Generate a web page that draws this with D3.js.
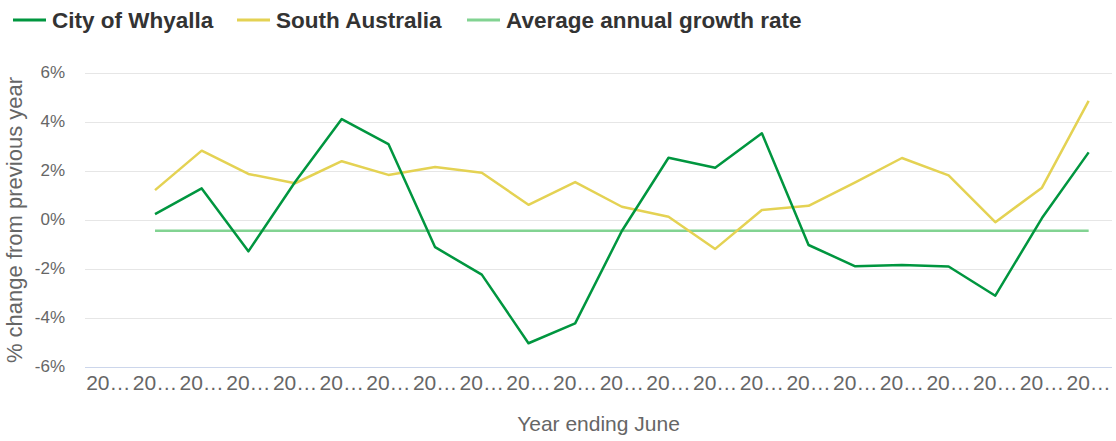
<!DOCTYPE html>
<html>
<head>
<meta charset="utf-8">
<script src="https://cdn.jsdelivr.net/npm/d3@7"></script>
<style>
  body { margin: 0; background: #fff; }
  text { font-family: "Liberation Sans", Arial, sans-serif; }
</style>
</head>
<body>
<div id="chart"></div>
<script>
// year ending June, one slot per year (first year has no change value)
var years = ["2001", "2002", "2003", "2004", "2005", "2006", "2007", "2008", "2009", "2010", "2011",
             "2012", "2013", "2014", "2015", "2016", "2017", "2018", "2019", "2020", "2021", "2022"];

var whyalla = [null, 0.24, 1.29, -1.28, 1.55, 4.12, 3.1, -1.11, -2.23, -5.03, -4.22,
               -0.45, 2.54, 2.13, 3.54, -1.02, -1.89, -1.84, -1.9, -3.09, 0.08, 2.76];
var southAus = [null, 1.22, 2.83, 1.88, 1.5, 2.4, 1.84, 2.16, 1.93, 0.62, 1.55,
                0.54, 0.13, -1.18, 0.41, 0.58, 1.54, 2.53, 1.82, -0.09, 1.32, 4.86];
var avgRate = -0.44; // average annual growth rate, Whyalla

var yTicks = [-6, -4, -2, 0, 2, 4, 6];

var seriesNames = ["City of Whyalla", "South Australia", "Average annual growth rate"];
var seriesColors = ["#00963f", "#e4d253", "#82d392"];

var w = 1116, h = 441;
var margin = { top: 73, right: 4, bottom: 74, left: 85 };
var width = w - margin.left - margin.right;
var height = h - margin.top - margin.bottom;

var svg = d3.select("#chart").append("svg")
    .attr("width", w)
    .attr("height", h);

var g = svg.append("g")
    .attr("transform", "translate(" + margin.left + "," + margin.top + ")");

var x = d3.scaleBand().domain(years).range([0, width]);
var y = d3.scaleLinear().domain([-6, 6]).range([height, 0]);

// gridlines
g.append("g")
    .selectAll("line")
    .data(yTicks.filter(t => t !== -6))
    .enter()
    .append("line")
    .attr("x1", 0)
    .attr("x2", width)
    .attr("y1", d => Math.round(y(d)) + 0.5)
    .attr("y2", d => Math.round(y(d)) + 0.5)
    .style("stroke", "#e6e6e6")
    .style("stroke-width", 1);

// y tick labels
g.append("g")
    .selectAll("text")
    .data(yTicks)
    .enter()
    .append("text")
    .attr("x", -20)
    .attr("y", d => y(d) + 5)
    .attr("text-anchor", "end")
    .style("font-size", "17px")
    .style("fill", "#666666")
    .text(d => d + "%");

// x axis line
g.append("line")
    .attr("x1", 0)
    .attr("x2", width)
    .attr("y1", height + 0.5)
    .attr("y2", height + 0.5)
    .style("stroke", "#ccd6eb")
    .style("stroke-width", 1);

// x tick labels - truncated like the original
g.append("g")
    .selectAll("text")
    .data(years)
    .enter()
    .append("text")
    .attr("x", d => x(d) + x.bandwidth() / 2)
    .attr("y", height + 23)
    .attr("text-anchor", "middle")
    .style("font-size", "21px")
    .style("fill", "#666666")
    .text(d => d.slice(0, 2) + "\u2026");

// axis titles
svg.append("text")
    .attr("transform", "translate(22," + (margin.top + height / 2) + ") rotate(-90)")
    .attr("text-anchor", "middle")
    .style("font-size", "22px")
    .style("fill", "#666666")
    .text("% change from previous year");

svg.append("text")
    .attr("x", margin.left + width / 2)
    .attr("y", 431)
    .attr("text-anchor", "middle")
    .style("font-size", "21px")
    .style("fill", "#666666")
    .text("Year ending June");

var cx = d => x(d) + x.bandwidth() / 2;

// average line spans the years with data
var avgYears = years.filter((d, i) => whyalla[i] !== null);
g.append("line")
    .attr("x1", cx(avgYears[0]))
    .attr("x2", cx(avgYears[avgYears.length - 1]))
    .attr("y1", y(avgRate))
    .attr("y2", y(avgRate))
    .style("stroke", seriesColors[2])
    .style("stroke-width", 2.5);

var line = d3.line()
    .defined(d => d.v !== null)
    .x(d => cx(d.year))
    .y(d => y(d.v));

[southAus, whyalla].forEach(function(vals) {
    var col = vals === whyalla ? seriesColors[0] : seriesColors[1];
    g.append("path")
        .datum(years.map((yr, i) => ({ year: yr, v: vals[i] })))
        .attr("d", line)
        .style("fill", "none")
        .style("stroke", col)
        .style("stroke-width", 2.5)
        .style("stroke-linejoin", "round");
});

// legend
var legendX = [13, 237, 467];
var legend = svg.append("g");
seriesNames.forEach(function(name, i) {
    legend.append("line")
        .attr("x1", legendX[i])
        .attr("x2", legendX[i] + 33)
        .attr("y1", 20)
        .attr("y2", 20)
        .style("stroke", seriesColors[i])
        .style("stroke-width", 3);
    legend.append("text")
        .attr("x", legendX[i] + 39)
        .attr("y", 27.5)
        .style("font-size", "22.5px")
        .style("font-weight", "bold")
        .style("fill", "#333333")
        .text(name);
});
</script>
</body>
</html>
